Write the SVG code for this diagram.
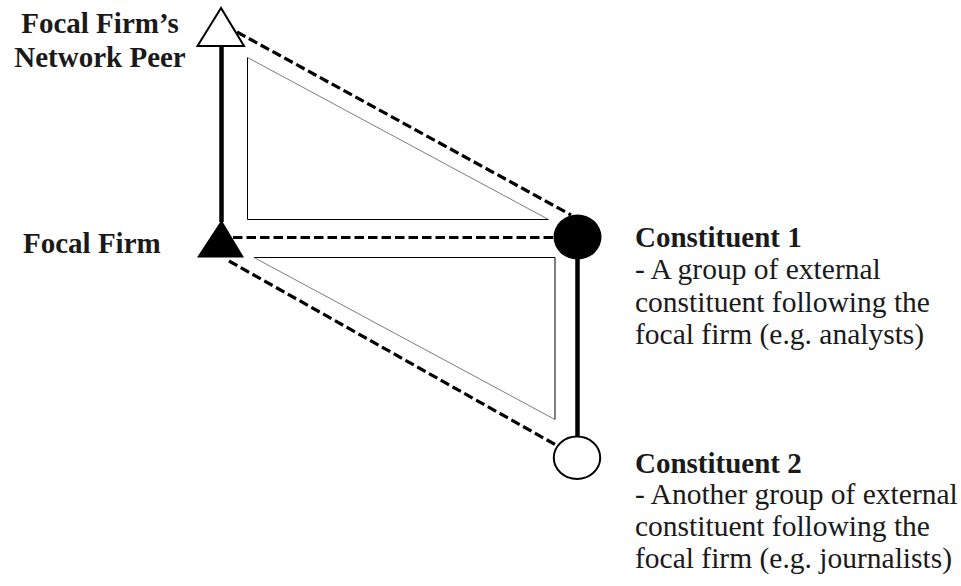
<svg xmlns="http://www.w3.org/2000/svg" width="961" height="586" viewBox="0 0 961 586">
<style>
.b{font-family:"Liberation Serif","Times New Roman",serif;font-weight:bold;font-size:29px;fill:#1a1a1a}
.r{font-family:"Liberation Serif","Times New Roman",serif;font-size:29.5px;fill:#1a1a1a}
.dash{fill:none;stroke:#000;stroke-width:3.2;stroke-dasharray:9.5 4}
.thick{fill:none;stroke:#000;stroke-width:4.5}
.tri{fill:none;stroke:#000;stroke-width:1}
.hyp{fill:none;stroke:#444;stroke-width:0.7}
</style>
<rect width="961" height="586" fill="#fff"/>
<g id="connectors">
<line class="thick" x1="221.5" y1="46" x2="221.5" y2="222"/>
<line class="thick" x1="577.5" y1="258" x2="577.5" y2="437"/>
<line class="dash" x1="237" y1="32" x2="571" y2="215"/>
<line class="dash" x1="233" y1="237.5" x2="553" y2="237.5"/>
<line class="dash" x1="229" y1="261" x2="556" y2="445"/>
</g>
<g id="inner-triangles">
<polyline class="tri" points="247.5,57.5 247.5,219.5 548.5,219.5"/>
<line class="hyp" x1="247.5" y1="57.5" x2="548.5" y2="219.5"/>
<polyline class="tri" points="254,257.5 555,257.5 555,419.5"/>
<line class="hyp" x1="254" y1="257.5" x2="555" y2="419.5"/>
</g>
<g id="peer">
<polygon points="221,8 197.5,46 244,46" fill="#fff" stroke="#000" stroke-width="2"/>
<text class="b" x="100" y="33" text-anchor="middle">Focal Firm’s</text>
<text class="b" x="100" y="67" text-anchor="middle">Network Peer</text>
</g>
<g id="focal">
<polygon points="221.5,220 197,257.5 244,257.5" fill="#000"/>
<text class="b" x="23" y="253">Focal Firm</text>
</g>
<g id="constituent1">
<ellipse cx="577.5" cy="237" rx="24" ry="22.5" fill="#000"/>
<text class="b" x="635" y="247">Constituent 1</text>
<text class="r" x="635" y="279">- A group of external</text>
<text class="r" x="635" y="311.5">constituent following the</text>
<text class="r" x="635" y="344">focal firm (e.g. analysts)</text>
</g>
<g id="constituent2">
<ellipse cx="577" cy="457.7" rx="23.2" ry="21.2" fill="#fff" stroke="#000" stroke-width="2"/>
<text class="b" x="635" y="473">Constituent 2</text>
<text class="r" x="635" y="504">- Another group of external</text>
<text class="r" x="635" y="536">constituent following the</text>
<text class="r" x="635" y="568">focal firm (e.g. journalists)</text>
</g>
</svg>
